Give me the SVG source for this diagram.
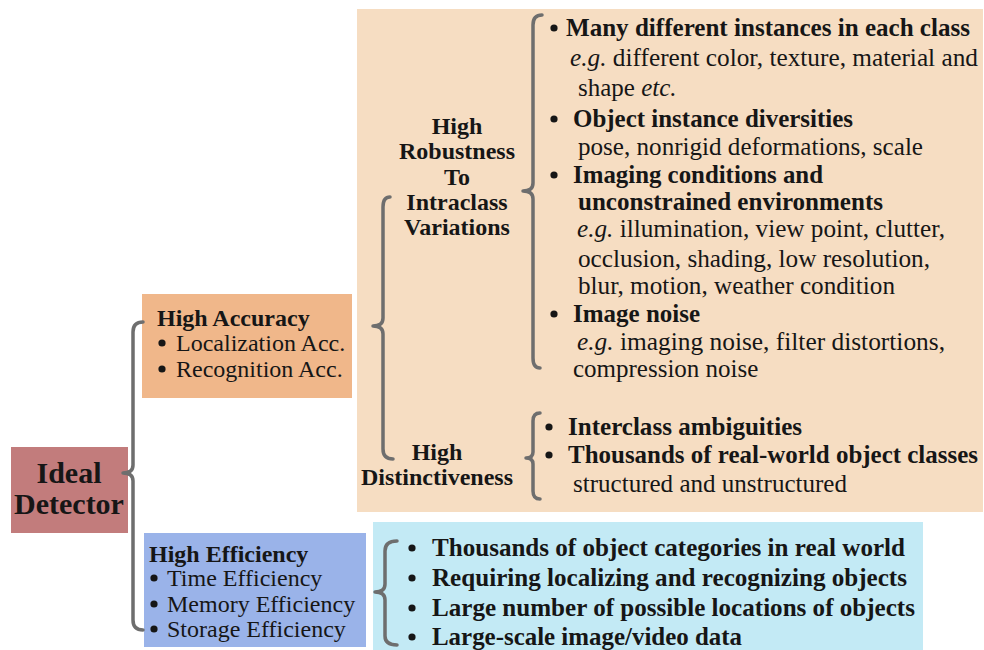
<svg xmlns="http://www.w3.org/2000/svg" width="984" height="650" viewBox="0 0 984 650">
  <style>
    text { font-family: "Liberation Serif", "Times New Roman", serif; fill: #161616; }
    .b { font-weight: bold; }
    .r { font-size: 25px; }
    .l { font-size: 24px; }
    .big { font-size: 30px; font-weight: bold; }
    .mid { text-anchor: middle; }
    .i { font-style: italic; }
    .dot { fill: #161616; }
    .brace { fill: none; stroke: #6e6e6e; stroke-width: 3.5; stroke-linecap: round; stroke-linejoin: round; }
  </style>

  <rect width="984" height="650" fill="#ffffff"/>

  <!-- panels -->
  <g id="robustness-panel">
    <rect x="357" y="9" width="626" height="503" fill="#f6ddc2"/>
    <text class="b l mid" x="457" y="134">High</text>
    <text class="b l mid" x="457" y="159">Robustness</text>
    <text class="b l mid" x="457" y="185">To</text>
    <text class="b l mid" x="457" y="210">Intraclass</text>
    <text class="b l mid" x="457" y="235">Variations</text>
    <text class="b l mid" x="437" y="460">High</text>
    <text class="b l mid" x="437" y="485">Distinctiveness</text>

    <circle class="dot" cx="554" cy="28" r="3.6"/>
    <text class="b r" x="566" y="36" textLength="404" lengthAdjust="spacingAndGlyphs">Many different instances in each class</text>
    <text class="r" x="570" y="66" textLength="408" lengthAdjust="spacingAndGlyphs"><tspan class="i">e.g.</tspan> different color, texture, material and</text>
    <text class="r" x="578" y="96">shape <tspan class="i">etc.</tspan></text>

    <circle class="dot" cx="554" cy="119" r="3.6"/>
    <text class="b r" x="573" y="127" textLength="280" lengthAdjust="spacingAndGlyphs">Object instance diversities</text>
    <text class="r" x="578" y="155" textLength="345" lengthAdjust="spacingAndGlyphs">pose, nonrigid deformations, scale</text>

    <circle class="dot" cx="554" cy="175" r="3.6"/>
    <text class="b r" x="573" y="183" textLength="250" lengthAdjust="spacingAndGlyphs">Imaging conditions and</text>
    <text class="b r" x="578" y="210" textLength="305" lengthAdjust="spacingAndGlyphs">unconstrained environments</text>
    <text class="r" x="577" y="237" textLength="368" lengthAdjust="spacingAndGlyphs"><tspan class="i">e.g.</tspan> illumination, view point, clutter,</text>
    <text class="r" x="578" y="267" textLength="352" lengthAdjust="spacingAndGlyphs">occlusion, shading, low resolution,</text>
    <text class="r" x="578" y="294" textLength="317" lengthAdjust="spacingAndGlyphs">blur, motion, weather condition</text>

    <circle class="dot" cx="554" cy="314" r="3.6"/>
    <text class="b r" x="573" y="322">Image noise</text>
    <text class="r" x="577" y="350" textLength="368" lengthAdjust="spacingAndGlyphs"><tspan class="i">e.g.</tspan> imaging noise, filter distortions,</text>
    <text class="r" x="573" y="377">compression noise</text>

    <circle class="dot" cx="549" cy="427" r="3.6"/>
    <text class="b r" x="568" y="435" textLength="234" lengthAdjust="spacingAndGlyphs">Interclass ambiguities</text>
    <circle class="dot" cx="549" cy="455" r="3.6"/>
    <text class="b r" x="568" y="463" textLength="410" lengthAdjust="spacingAndGlyphs">Thousands of real-world object classes</text>
    <text class="r" x="573" y="492" textLength="274" lengthAdjust="spacingAndGlyphs">structured and unstructured</text>
  </g>

  <g id="efficiency-panel">
    <rect x="373" y="522" width="550" height="128" fill="#c3eaf5"/>
    <circle class="dot" cx="412" cy="548" r="3.6"/>
    <text class="b r" x="432" y="556" textLength="473" lengthAdjust="spacingAndGlyphs">Thousands of object categories in real world</text>
    <circle class="dot" cx="412" cy="578" r="3.6"/>
    <text class="b r" x="432" y="586" textLength="475" lengthAdjust="spacingAndGlyphs">Requiring localizing and recognizing objects</text>
    <circle class="dot" cx="412" cy="608" r="3.6"/>
    <text class="b r" x="432" y="616" textLength="483" lengthAdjust="spacingAndGlyphs">Large number of possible locations of objects</text>
    <circle class="dot" cx="412" cy="637" r="3.6"/>
    <text class="b r" x="432" y="645" textLength="310" lengthAdjust="spacingAndGlyphs">Large-scale image/video data</text>
  </g>

  <!-- nodes -->
  <g id="ideal-detector">
    <rect x="11" y="447" width="117" height="86" fill="#c27c7c"/>
    <text class="big mid" x="69" y="483">Ideal</text>
    <text class="big mid" x="69" y="514">Detector</text>
  </g>

  <g id="high-accuracy">
    <rect x="142" y="294" width="210" height="104" fill="#f0b78a"/>
    <text class="b l" x="157" y="326">High Accuracy</text>
    <circle class="dot" cx="162" cy="343" r="3.6"/>
    <text class="l" x="176" y="351">Localization Acc.</text>
    <circle class="dot" cx="162" cy="369" r="3.6"/>
    <text class="l" x="176" y="377">Recognition Acc.</text>
  </g>

  <g id="high-efficiency">
    <rect x="144" y="533" width="222" height="114" fill="#9ab3e9"/>
    <text class="b l" x="149" y="562">High Efficiency</text>
    <circle class="dot" cx="154" cy="578" r="3.6"/>
    <text class="l" x="167" y="586">Time Efficiency</text>
    <circle class="dot" cx="154" cy="604" r="3.6"/>
    <text class="l" x="167" y="612">Memory Efficiency</text>
    <circle class="dot" cx="154" cy="629" r="3.6"/>
    <text class="l" x="167" y="637">Storage Efficiency</text>
  </g>

  <!-- curly-brace connectors -->
  <g id="connectors">
    <path class="brace" d="M143,322 Q133,322 133,332 L133,465 Q133,473 123,473 Q133,473 133,481 L133,620 Q133,630 143,630"/>
    <path class="brace" d="M390,197 Q383,197 383,207 L383,318 Q383,326 373,326 Q383,326 383,334 L383,449 Q383,459 393,459"/>
    <path class="brace" d="M542,15 Q533,15 533,25 L533,183 Q533,191 523,191 Q533,191 533,199 L533,358 Q533,368 540,368"/>
    <path class="brace" d="M540,413 Q533,413 533,421 L533,452 Q533,458 526,458 Q533,458 533,464 L533,491 Q533,499 540,499"/>
    <path class="brace" d="M397,541 Q385,541 385,551 L385,584 Q385,592 375,592 Q385,592 385,600 L385,636 Q385,645 397,645"/>
  </g>
</svg>
